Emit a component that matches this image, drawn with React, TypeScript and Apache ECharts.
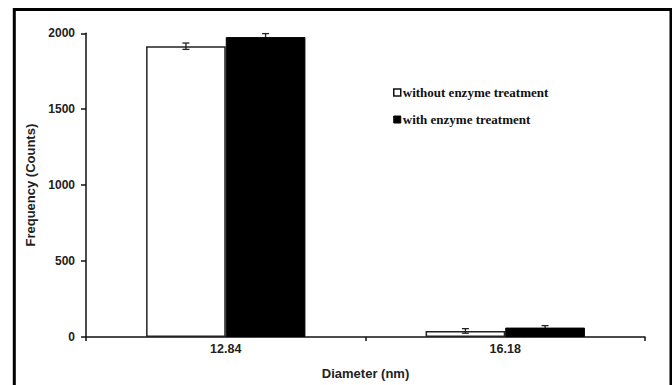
import React, { useEffect, useRef } from "react";
import * as echarts from "echarts";

const categories = ["12.84", "16.18"];
const withoutValues = [1915, 40];
const withValues = [1975, 62];
const withoutErrors = [21, 15];
const withErrors = [23, 13];
const yTicks = { min: 0, max: 2000, interval: 500 };
const seriesNames = ["without enzyme treatment", "with enzyme treatment"];

export default function App() {
  const ref = useRef<HTMLDivElement>(null);
  useEffect(() => {
    if (!ref.current) return;
    const chart = echarts.init(ref.current, undefined, { renderer: "svg" });
    const makeErr = (vals: number[], errs: number[], side: number, color: string, z: number) => ({
      type: "custom",
      silent: true,
      z,
      data: vals.map((v, i) => [i, v, errs[i]]),
      renderItem: (params: any, api: any) => {
        const i = api.value(0);
        const v = api.value(1);
        const e = api.value(2);
        const band = api.size([1, 0])[0];
        const bw = (band * 0.57) / 2;
        const c = api.coord([i, v]);
        const x = c[0] + side * bw / 2;
        const top = api.coord([i, v + e])[1];
        const bot = api.coord([i, v - e])[1];
        const cap = 3.5;
        const style = { stroke: color, lineWidth: 1.3 };
        return {
          type: "group",
          children: [
            { type: "line", shape: { x1: x, y1: top, x2: x, y2: bot }, style },
            { type: "line", shape: { x1: x - cap, y1: top, x2: x + cap, y2: top }, style },
            { type: "line", shape: { x1: x - cap, y1: bot, x2: x + cap, y2: bot }, style },
          ],
        };
      },
    });
    chart.setOption({
      animation: false,
      backgroundColor: "#fff",
      grid: { left: 86, right: 27, top: 33.3, bottom: 42.7 },
      legend: {
        orient: "vertical",
        left: 388,
        top: 81,
        itemWidth: 7,
        itemHeight: 7,
        itemGap: 14,
        selectedMode: false,
        data: [
          { name: seriesNames[0], icon: "rect", itemStyle: { color: "#fff", borderColor: "#111", borderWidth: 1.5 } },
          { name: seriesNames[1], icon: "rect", itemStyle: { color: "#000", borderColor: "#000", borderWidth: 1 } },
        ],
        textStyle: {
          fontFamily: "Liberation Serif",
          fontWeight: "bold",
          fontSize: 13,
          color: "#111",
          padding: [0, 0, 0, -3],
        },
      },
      xAxis: {
        type: "category",
        data: categories,
        name: "Diameter (nm)",
        nameLocation: "middle",
        nameGap: 30,
        nameTextStyle: { fontFamily: "Liberation Sans", fontWeight: "bold", fontSize: 13, color: "#222" },
        axisLine: { lineStyle: { color: "#111", width: 1.5 } },
        axisTick: { show: true, length: 4, lineStyle: { color: "#111", width: 1.5 } },
        axisLabel: { fontFamily: "Liberation Sans", fontWeight: "bold", fontSize: 12.5, color: "#222", margin: 5 },
      },
      yAxis: {
        type: "value",
        min: yTicks.min,
        max: yTicks.max,
        interval: yTicks.interval,
        name: "Frequency (Counts)",
        nameLocation: "middle",
        nameGap: 43,
        nameTextStyle: { fontFamily: "Liberation Sans", fontWeight: "bold", fontSize: 13, color: "#222" },
        splitLine: { show: false },
        axisLine: { show: true, lineStyle: { color: "#111", width: 1.5 } },
        axisTick: { show: true, length: 5, lineStyle: { color: "#111", width: 1.5 } },
        axisLabel: {
          fontFamily: "Liberation Sans",
          fontWeight: "bold",
          fontSize: 12,
          color: "#222",
          margin: 11,
          formatter: (v: number) => String(v),
        },
      },
      series: [
        {
          name: seriesNames[0],
          type: "bar",
          z: 2,
          data: withoutValues,
          barGap: "0%",
          barCategoryGap: "43%",
          itemStyle: { color: "#fff", borderColor: "#222", borderWidth: 1.5 },
        },
        {
          name: seriesNames[1],
          type: "bar",
          z: 2,
          data: withValues,
          barGap: "0%",
          barCategoryGap: "43%",
          itemStyle: { color: "#000", borderColor: "#000", borderWidth: 1 },
        },
        makeErr(withoutValues, withoutErrors, -1, "#222", 10),
        makeErr(withValues, withErrors, 1, "#222", 1),
      ],
      graphic: [
        {
          type: "rect",
          shape: { x: 14.3, y: 9.5, width: 656.7, height: 400 },
          style: { fill: "none", stroke: "#000", lineWidth: 3 },
          z: 100,
        },
      ],
    });
    return () => chart.dispose();
  }, []);
  return (
    <div
      ref={ref}
      style={{ position: "absolute", left: 0, top: 0, width: 672, height: 385, background: "#fff" }}
    />
  );
}
